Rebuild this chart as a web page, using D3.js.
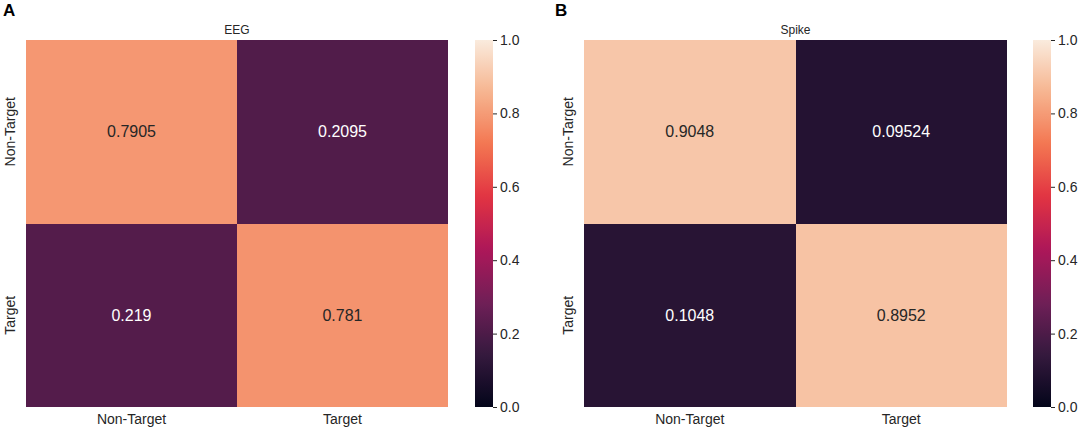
<!DOCTYPE html>
<html><head><meta charset="utf-8">
<script src="https://cdn.jsdelivr.net/npm/d3@7"></script>
<style>body{margin:0;background:#fff}svg{display:block}text{font-family:"Liberation Sans",Arial,sans-serif}</style>
</head><body>
<svg id="c" width="1084" height="433"></svg>
<script>
const categories = ["Non-Target", "Target"];
const panelLetters = ["A", "B"];
const panelTitles = ["EEG", "Spike"];
const eegValues = [[0.7905, 0.2095], [0.219, 0.781]];
const spikeValues = [[0.9048, 0.09524], [0.1048, 0.8952]];
const eegLabels = [["0.7905", "0.2095"], ["0.219", "0.781"]];
const spikeLabels = [["0.9048", "0.09524"], ["0.1048", "0.8952"]];
const colorbarTicks = [0.0, 0.2, 0.4, 0.6, 0.8, 1.0];

// rocket colormap stops
const rocketStops = [[0, "#03051a"], [1/7, "#35193e"], [2/7, "#701f57"], [3/7, "#ad1759"], [4/7, "#e13342"], [5/7, "#f37651"], [6/7, "#f6b48f"], [1, "#faebdd"]];
const rocket = d3.scaleLinear().domain(rocketStops.map(d => d[0])).range(rocketStops.map(d => d[1])).interpolate(d3.interpolateRgb).clamp(true);

const svg = d3.select("#c");
const defs = svg.append("defs");
const grad = defs.append("linearGradient").attr("id", "rk").attr("x1", 0).attr("y1", 1).attr("x2", 0).attr("y2", 0);
d3.range(0, 1.0001, 0.02).forEach(t => grad.append("stop").attr("offset", t).attr("stop-color", rocket(t)));

const panels = [
  {x0: 26, x1: 448, cb: 475, values: eegValues, labels: eegLabels, letterX: 3},
  {x0: 584, x1: 1007, cb: 1033, values: spikeValues, labels: spikeLabels, letterX: 555}
];
const plotTop = 40, plotBottom = 407;
const FONT = '"Liberation Sans",Arial,sans-serif';

panels.forEach((p, i) => {
  const g = svg.append("g");
  const x = d3.scaleBand().domain(categories).range([p.x0, p.x1]);
  const y = d3.scaleBand().domain(categories).range([plotTop, plotBottom]);
  const cells = [];
  categories.forEach((r, ri) => categories.forEach((c, ci) => cells.push({r, c, v: p.values[ri][ci], t: p.labels[ri][ci]})));
  g.selectAll("rect.cell").data(cells).join("rect").attr("class", "cell")
    .attr("x", d => x(d.c)).attr("y", d => y(d.r))
    .attr("width", x.bandwidth()).attr("height", y.bandwidth())
    .attr("fill", d => rocket(d.v)).attr("shape-rendering", "crispEdges");
  g.selectAll("text.val").data(cells).join("text").attr("class", "val")
    .attr("x", d => x(d.c) + x.bandwidth() / 2).attr("y", d => y(d.r) + y.bandwidth() / 2)
    .attr("text-anchor", "middle").attr("dominant-baseline", "central")
    .attr("font-size", 16).attr("fill", d => d.v > 0.5 ? "#262626" : "#ffffff").text(d => d.t);
  const xa = g.append("g").attr("transform", `translate(0,${plotBottom})`)
    .call(d3.axisBottom(x).tickSize(0).tickPadding(7));
  xa.select(".domain").remove();
  xa.selectAll("text").attr("font-size", 14).attr("fill", "#262626").style("font-family", FONT);
  const ya = g.append("g").attr("transform", `translate(${p.x0},0)`)
    .call(d3.axisLeft(y).tickSize(0).tickPadding(0));
  ya.select(".domain").remove();
  ya.selectAll("text").attr("font-size", 14).attr("fill", "#262626")
    .style("font-family", FONT)
    .attr("text-anchor", "middle").attr("x", 0).attr("dy", 0)
    .attr("transform", "translate(-11,0) rotate(-90)");
  g.append("text").attr("x", (p.x0 + p.x1) / 2).attr("y", 34).attr("text-anchor", "middle")
    .attr("font-size", 12).attr("fill", "#262626").text(panelTitles[i]);
  g.append("text").attr("x", p.letterX).attr("y", 16).attr("font-size", 17).attr("font-weight", "bold")
    .attr("fill", "#000").text(panelLetters[i]);
  const cbW = 18;
  g.append("rect").attr("x", p.cb).attr("y", plotTop).attr("width", cbW).attr("height", plotBottom - plotTop).attr("fill", "url(#rk)");
  const cs = d3.scaleLinear().domain([0, 1]).range([plotBottom, plotTop]);
  const ca = g.append("g").attr("transform", `translate(${p.cb + cbW},0)`)
    .call(d3.axisRight(cs).tickValues(colorbarTicks).tickFormat(d3.format(".1f")).tickSize(4).tickPadding(3));
  ca.select(".domain").remove();
  ca.selectAll("line").attr("stroke", "#262626").attr("stroke-width", 1);
  ca.selectAll("text").attr("font-size", 14).attr("fill", "#262626").style("font-family", FONT);
});
</script>
</body></html>
